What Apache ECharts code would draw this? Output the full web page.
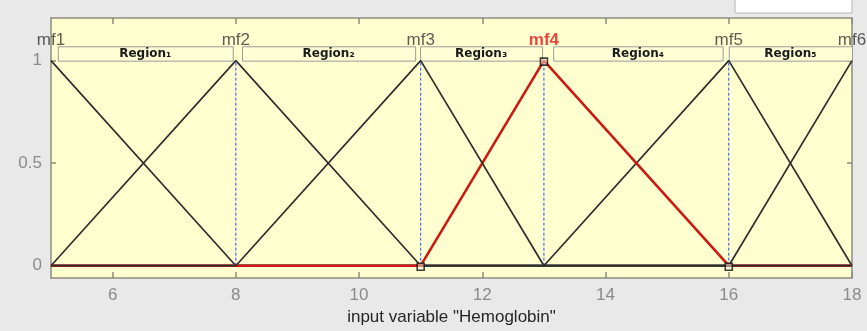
<!DOCTYPE html>
<html>
<head>
<meta charset="utf-8">
<script src="https://cdn.jsdelivr.net/npm/echarts@6/dist/echarts.min.js"></script>
<style>
  html, body { margin: 0; padding: 0; background: #e9e9e9; }
  #chart { width: 867px; height: 331px; }
</style>
</head>
<body>
<div id="chart"></div>
<script>
// Input variable range
const xMin = 5;
const xMax = 18;

// Triangular membership functions [a, b, c]
const mfNames = ['mf1', 'mf2', 'mf3', 'mf4', 'mf5', 'mf6'];
const mfParams = [
  [5, 5, 8],
  [5, 8, 11],
  [8, 11, 13],
  [11, 13, 16],
  [13, 16, 18],
  [16, 18, 18]
];
const selectedMf = 3;

// Region annotations along the top of the plot
const regionLabels = ['Region\u2081', 'Region\u2082', 'Region\u2083', 'Region\u2084', 'Region\u2085'];
const regionStart = [5.11, 8.10, 10.99, 13.15, 16.0];
const regionEnd = [7.95, 10.91, 12.97, 15.90, 18.0];

// Axis ticks
const xTicks = [6, 8, 10, 12, 14, 16, 18];
const yTicks = [0, 0.5, 1];

function trimf(x, p) {
  const [a, b, c] = p;
  if (x === b) return 1;
  if (x <= a || x >= c) return 0;
  return x < b ? (x - a) / (b - a) : (c - x) / (c - b);
}

function mfPolyline(p) {
  const xs = Array.from(new Set([xMin, p[0], p[1], p[2], xMax])).sort((u, v) => u - v);
  return xs.map(x => [x, trimf(x, p)]);
}

const chart = echarts.init(document.getElementById('chart'), null, { renderer: 'canvas' });

const axisColor = '#8c8c7c';
const labelColor = '#8a8a8a';

const series = [];

// Blue dashed guides at interior peaks
mfParams.forEach(p => {
  const b = p[1];
  if (b > xMin && b < xMax) {
    series.push({
      type: 'line',
      data: [[b, 0], [b, 1]],
      symbol: 'none',
      silent: true,
      z: 1,
      lineStyle: { color: '#1f4dff', width: 1, type: [3, 2] }
    });
  }
});

// Region boxes
series.push({
  type: 'custom',
  z: 2,
  silent: true,
  data: regionLabels.map((name, i) => [regionStart[i], regionEnd[i], name]),
  renderItem: function (params, api) {
    const p0 = api.coord([api.value(0), 1.07]);
    const p1 = api.coord([api.value(1), 1]);
    const name = regionLabels[params.dataIndex];
    return {
      type: 'group',
      children: [
        {
          type: 'rect',
          shape: { x: p0[0] + 0.5, y: p0[1] + 0.5, width: p1[0] - p0[0], height: p1[1] - p0[1] },
          style: { fill: '#ffffd6', stroke: '#9a9a9a', lineWidth: 1 }
        },
        {
          type: 'text',
          x: (p0[0] + p1[0]) / 2,
          y: (p0[1] + p1[1]) / 2 + 0.5,
          style: {
            text: name,
            fill: '#1a1a1a',
            font: 'bold 12px "DejaVu Sans"',
            align: 'center',
            verticalAlign: 'middle'
          }
        }
      ]
    };
  }
});

// Membership function curves, selected one drawn in red (draw order sets overlap on the zero line)
const drawOrder = [0, 1, 4, 5, 3, 2];
drawOrder.forEach(i => {
  const sel = i === selectedMf;
  series.push({
    type: 'line',
    name: mfNames[i],
    data: mfPolyline(mfParams[i]),
    symbol: 'none',
    z: 3,
    lineStyle: sel ? { color: '#cc1a12', width: 2.6 } : { color: '#2e2e2e', width: 1.7 }
  });
});

// Handles on the selected membership function
const selP = mfParams[selectedMf];
series.push({
  type: 'scatter',
  z: 6,
  silent: true,
  symbol: 'rect',
  symbolSize: 7,
  symbolOffset: [0, 1],
  data: [[selP[0], trimf(selP[0], selP)], [selP[1], trimf(selP[1], selP)], [selP[2], trimf(selP[2], selP)]],
  itemStyle: { color: 'rgba(255,255,230,0.6)', borderColor: '#111', borderWidth: 1.6 }
});

// MF names above each peak
series.push({
  type: 'scatter',
  z: 7,
  silent: true,
  symbolSize: 0,
  data: mfParams.map((p, i) => ({
    value: [p[1], 1],
    label: {
      show: true,
      position: 'top',
      distance: 12,
      formatter: mfNames[i],
      fontFamily: 'Liberation Sans',
      fontSize: 17,
      fontWeight: i === selectedMf ? 'bold' : 'normal',
      color: i === selectedMf ? '#e01818' : '#333333'
    }
  }))
});

const option = {
  backgroundColor: '#e9e9e9',
  animation: false,
  graphic: [
    {
      type: 'rect',
      shape: { x: 735, y: -1, width: 117, height: 14 },
      style: { fill: '#ffffff', stroke: '#b4b4b4', lineWidth: 1 },
      z: 10
    }
  ],
  grid: {
    left: 51, right: 15, top: 18, height: 260,
    show: true, backgroundColor: '#ffffcf', borderWidth: 0
  },
  xAxis: [
    {
      type: 'value', min: xMin, max: xMax, position: 'bottom',
      name: 'input variable "Hemoglobin"',
      nameLocation: 'middle', nameGap: 27,
      nameTextStyle: { fontFamily: 'Liberation Sans', fontSize: 17, color: '#262626' },
      axisLine: { show: true, onZero: false, lineStyle: { color: axisColor, width: 1.5 } },
      axisTick: { show: true, inside: true, length: 6, customValues: xTicks, lineStyle: { color: axisColor, width: 1.5 } },
      axisLabel: { customValues: xTicks, margin: 9, fontFamily: 'Liberation Sans', fontSize: 17, color: labelColor },
      splitLine: { show: false }
    },
    {
      type: 'value', min: xMin, max: xMax, position: 'top',
      axisLine: { show: true, onZero: false, lineStyle: { color: axisColor, width: 1.5 } },
      axisTick: { show: true, inside: true, length: 6, customValues: xTicks, lineStyle: { color: axisColor, width: 1.5 } },
      axisLabel: { show: false },
      splitLine: { show: false }
    }
  ],
  yAxis: [
    {
      type: 'value', min: -0.06, max: 1.208, position: 'left',
      axisLine: { show: true, onZero: false, lineStyle: { color: axisColor, width: 1.5 } },
      axisTick: { show: true, inside: true, length: 5, customValues: yTicks, lineStyle: { color: axisColor, width: 1.5 } },
      axisLabel: { customValues: yTicks, margin: 9, fontFamily: 'Liberation Sans', fontSize: 17, color: labelColor },
      splitLine: { show: false }
    },
    {
      type: 'value', min: -0.06, max: 1.208, position: 'right',
      axisLine: { show: true, onZero: false, lineStyle: { color: axisColor, width: 1.5 } },
      axisTick: { show: true, inside: true, length: 5, customValues: yTicks, lineStyle: { color: axisColor, width: 1.5 } },
      axisLabel: { show: false },
      splitLine: { show: false }
    }
  ],
  series: series
};

chart.setOption(option);
</script>
</body>
</html>
